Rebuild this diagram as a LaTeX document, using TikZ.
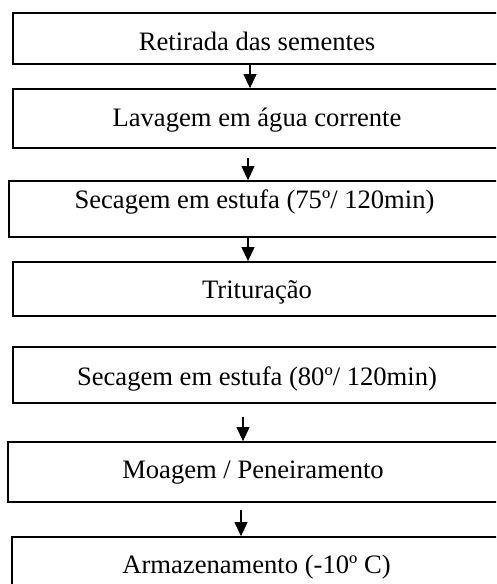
\documentclass[tikz,border=0pt]{standalone}
\usepackage{fontspec}
\setmainfont{Liberation Serif}
\usetikzlibrary{arrows.meta}
\begin{document}
\begin{tikzpicture}[x=1pt,y=-1pt,
  stepbox/.style={draw, line width=1.8pt, inner sep=0pt, anchor=base,
    font=\fontsize{26.6}{32}\selectfont},
  arr/.style={line width=1.1pt, -{Triangle[length=14pt,width=13pt]}}]
\useasboundingbox (0,0) rectangle (496,584);
\clip (0,0) rectangle (496,584);
\node[stepbox, minimum width=488pt, text height=37pt, text depth=14pt] (b1) at (257,50) {Retirada das sementes};
\node[stepbox, minimum width=488pt, text height=37pt, text depth=22pt] (b2) at (257,126) {Lavagem em água corrente};
\node[stepbox, minimum width=491pt, text height=27pt, text depth=29pt] (b3) at (254.5,208) {Secagem em estufa (75º/ 120min)};
\node[stepbox, minimum width=488pt, text height=36pt, text depth=18pt] (b4) at (257,298) {Trituração};
\node[stepbox, minimum width=488pt, text height=38pt, text depth=18pt] (b5) at (257,385) {Secagem em estufa (80º/ 120min)};
\node[stepbox, minimum width=490pt, text height=36pt, text depth=24pt] (b6) at (253,478) {Moagem / Peneiramento};
\node[stepbox, minimum width=489pt, text height=36pt, text depth=25pt] (b7) at (256.5,573) {Armazenamento (-10º C)};
\coordinate (s1) at (250,0);
\coordinate (s2) at (248,158);
\coordinate (s3) at (248,0);
\coordinate (s4) at (243,417);
\coordinate (s5) at (241,510);
\draw[arr] (s1 |- b1.south) -- (s1 |- b2.north);
\draw[arr] (s2) -- (s2 |- b3.north);
\draw[arr] (s3 |- b3.south) -- (s3 |- b4.north);
\draw[arr] (s4) -- (s4 |- b6.north);
\draw[arr] (s5) -- (s5 |- b7.north);
\end{tikzpicture}
\end{document}
